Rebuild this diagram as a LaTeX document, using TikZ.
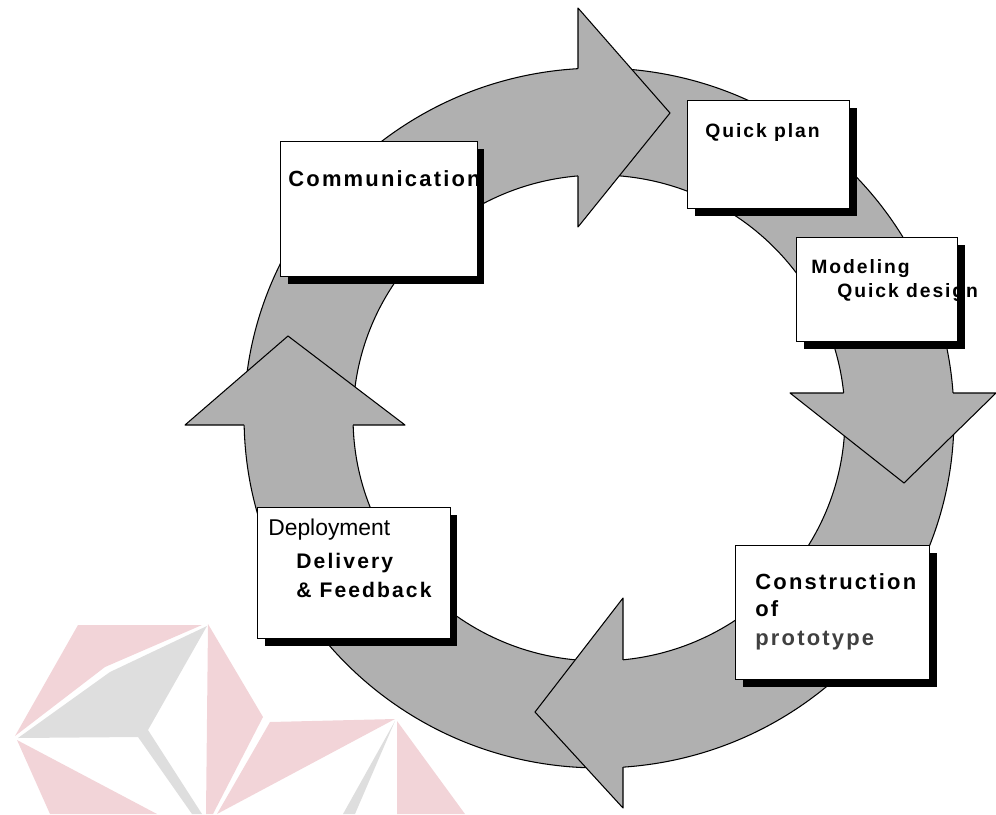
\documentclass[tikz,border=0pt]{standalone}
\usepackage{fontspec}
\usetikzlibrary{shadows}
\newfontfamily\lab[LetterSpace=10]{Liberation Sans}
\newfontfamily\labr{Liberation Sans}
\definecolor{bandgray}{HTML}{B0B0B0}
\definecolor{wmpink}{HTML}{F2D4D8}
\definecolor{wmgray}{HTML}{DEDEDE}
\tikzset{
  edge/.style={draw=black, line width=0.6pt, line join=round},
  box/.style={draw=black, line width=0.6pt, fill=white, inner sep=0pt, anchor=north west,
    drop shadow={shadow xshift=0.14cm, shadow yshift=-0.14cm, fill=black, opacity=1}},
  lblL/.style={inner sep=0pt, anchor=base west, font={\lab\bfseries\fontsize{12.5pt}{15pt}\selectfont}},
  lblM/.style={inner sep=0pt, anchor=base west, font={\lab\bfseries\fontsize{12pt}{14pt}\selectfont}},
  lblS/.style={inner sep=0pt, anchor=base west, font={\lab\bfseries\fontsize{11pt}{13pt}\selectfont}},
  lblR/.style={inner sep=0pt, anchor=base west, font={\labr\fontsize{13pt}{15pt}\selectfont}}
}
\begin{document}
\begin{tikzpicture}[x=0.02cm, y=-0.02cm]
\useasboundingbox (0,0) rectangle (996,814);
% watermark
\fill[wmpink] (78,625) -- (202,625) -- (105,667) -- (15,736) -- cycle;
\fill[wmgray] (18,738) -- (110,672) -- (207,626) -- (148,730) -- (202,814) -- (192,814) -- (138,737) -- cycle;
\fill[wmpink] (208,624) -- (263,717) -- (213,814) -- (206,814) -- cycle;
\fill[wmpink] (17,740) -- (157,814) -- (50,814) -- cycle;
\fill[wmpink] (270,722) -- (395,719) -- (217,814) -- cycle;
\fill[wmgray] (395,721) -- (355,814) -- (343,814) -- cycle;
\fill[wmpink] (397,721) -- (465,814) -- (397,814) -- cycle;
% ring
\path[fill=bandgray, even odd rule, edge]
  (599,418) ellipse [x radius=7.1cm, y radius=7cm]
  (599,418) ellipse [x radius=4.92cm, y radius=4.86cm];
% arrowheads
\fill[bandgray] (578,8) -- (670,113) -- (578,227) -- cycle;
\draw[edge] (578,68.6) -- (578,8) -- (670,113) -- (578,227) -- (578,175.9);
\fill[bandgray] (790,393) -- (904,483) -- (996,393) -- cycle;
\draw[edge] (843.7,393) -- (790,393) -- (904,483) -- (996,393) -- (953.1,393);
\fill[bandgray] (623,598) -- (535,712) -- (623,808) -- cycle;
\draw[edge] (623,659.8) -- (623,598) -- (535,712) -- (623,808) -- (623,767.2);
\fill[bandgray] (185,425) -- (288,336) -- (405,425) -- cycle;
\draw[edge] (244.1,425) -- (185,425) -- (288,336) -- (405,425) -- (353.1,425);
% boxes
\node[box, minimum width=3.94cm, minimum height=2.7cm] (comm) at (280,141) {};
\node[box, minimum width=3.24cm, minimum height=2.16cm] (qplan) at (687,100) {};
\node[box, minimum width=3.22cm, minimum height=2.08cm] (model) at (796,237) {};
\node[box, minimum width=3.88cm, minimum height=2.68cm] (constr) at (735,545) {};
\node[box, minimum width=3.86cm, minimum height=2.62cm] (deploy) at (257,507) {};
% texts
\node[lblL] (tcomm) at (288,187) {Communication};
\node[lblS] (tqplan) at (705,138) {Quick plan};
\node[lblS] (tmodel) at (811,273) {Modeling};
\node[lblS] (tqdes) at (837,297) {Quick design};
\node[lblL] (tcons) at (755,589) {Construction};
\node[lblL] (tof) at (755,616) {of};
\node[lblL, text=black!75] (tproto) at (755,645) {prototype};
\node[lblR] (tdep) at (268,535) {Deployment};
\node[lblM] (tdel) at (296,568) {Delivery};
\node[lblM] (tfeed) at (296,597) {\& Feedback};
\end{tikzpicture}
\end{document}
